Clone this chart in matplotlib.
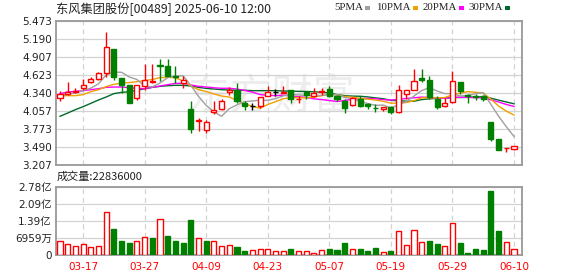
import matplotlib
matplotlib.use("Agg")
import matplotlib.pyplot as plt
from matplotlib.patches import Rectangle

# trading days shown
dates = ["03-12", "03-13", "03-14", "03-17", "03-18", "03-19", "03-20", "03-21", "03-24", "03-25",
         "03-26", "03-27", "03-28", "03-31", "04-01", "04-02", "04-03", "04-07", "04-08", "04-09",
         "04-10", "04-11", "04-14", "04-15", "04-16", "04-17", "04-22", "04-23", "04-24", "04-25",
         "04-28", "04-29", "04-30", "05-02", "05-06", "05-07", "05-08", "05-09", "05-12", "05-13",
         "05-14", "05-15", "05-16", "05-19", "05-20", "05-21", "05-22", "05-23", "05-26", "05-27",
         "05-28", "05-29", "05-30", "06-02", "06-03", "06-04", "06-05", "06-06", "06-09", "06-10"]

opens = [4.26, 4.33, 4.35, 4.42, 4.51, 4.56, 4.66, 5.03, 4.58, 4.47,
         4.26, 4.45, 4.51, 4.78, 4.76, 4.61, 4.50, 4.09, 3.90, 3.75,
         4.04, 4.09, 4.36, 4.38, 4.19, 4.13, 4.14, 4.30, 4.35, 4.34,
         4.39, 4.24, 4.35, 4.30, 4.35, 4.40, 4.29, 4.21, 4.15, 4.24,
         4.16, 4.11, 4.09, 4.12, 4.04, 4.33, 4.38, 4.58, 4.55, 4.25,
         4.13, 4.20, 4.52, 4.31, 4.30, 4.29, 3.89, 3.61, 3.47, 3.46]
highs = [4.37, 4.51, 4.42, 4.56, 4.59, 4.67, 5.30, 5.03, 4.58, 4.47,
         4.47, 4.79, 4.80, 4.88, 4.88, 4.76, 4.60, 4.22, 3.95, 3.92,
         4.21, 4.25, 4.43, 4.50, 4.21, 4.18, 4.28, 4.45, 4.41, 4.45,
         4.39, 4.30, 4.35, 4.42, 4.42, 4.45, 4.31, 4.24, 4.28, 4.29,
         4.19, 4.16, 4.12, 4.14, 4.46, 4.39, 4.72, 4.71, 4.60, 4.30,
         4.26, 4.68, 4.52, 4.33, 4.33, 4.31, 3.89, 3.61, 3.48, 3.51]
lows = [4.21, 4.31, 4.34, 4.39, 4.49, 4.55, 4.59, 4.54, 4.34, 4.18,
        4.23, 4.38, 4.50, 4.53, 4.60, 4.50, 4.42, 3.71, 3.74, 3.71,
        4.01, 4.08, 4.31, 4.18, 4.07, 4.07, 4.10, 4.30, 4.30, 4.34,
        4.19, 4.19, 4.24, 4.28, 4.31, 4.28, 4.21, 4.03, 4.13, 4.12,
        4.09, 4.04, 4.05, 4.01, 4.02, 4.24, 4.38, 4.51, 4.24, 4.09,
        4.12, 4.18, 4.33, 4.19, 4.23, 4.22, 3.58, 3.44, 3.41, 3.44]
closes = [4.32, 4.36, 4.37, 4.47, 4.56, 4.66, 5.06, 4.59, 4.46, 4.19,
          4.46, 4.54, 4.53, 4.77, 4.61, 4.59, 4.55, 3.78, 3.91, 3.89,
          4.08, 4.21, 4.38, 4.21, 4.14, 4.13, 4.28, 4.36, 4.35, 4.35,
          4.24, 4.25, 4.31, 4.34, 4.37, 4.30, 4.24, 4.10, 4.26, 4.14,
          4.13, 4.10, 4.12, 4.04, 4.38, 4.39, 4.53, 4.55, 4.27, 4.12,
          4.18, 4.53, 4.37, 4.30, 4.27, 4.25, 3.61, 3.44, 3.48, 3.50]

ma5 = [4.30, 4.32, 4.34, 4.38, 4.416, 4.484, 4.624, 4.668, 4.666, 4.592,
       4.552, 4.448, 4.436, 4.498, 4.582, 4.608, 4.610, 4.460, 4.288, 4.144,
       4.042, 3.974, 4.094, 4.154, 4.204, 4.214, 4.228, 4.224, 4.252, 4.294,
       4.316, 4.310, 4.300, 4.298, 4.302, 4.314, 4.312, 4.270, 4.254, 4.208,
       4.174, 4.146, 4.150, 4.106, 4.154, 4.206, 4.292, 4.378, 4.424, 4.372,
       4.330, 4.330, 4.294, 4.300, 4.330, 4.344, 4.160, 3.974, 3.810, 3.656]
ma10 = [4.298, 4.298, 4.298, 4.314, 4.361, 4.392, 4.440, 4.476, 4.497, 4.504,
        4.518, 4.536, 4.552, 4.582, 4.587, 4.580, 4.529, 4.448, 4.393, 4.363,
        4.325, 4.292, 4.277, 4.221, 4.174, 4.128, 4.101, 4.159, 4.203, 4.249,
        4.265, 4.269, 4.262, 4.275, 4.298, 4.315, 4.311, 4.285, 4.276, 4.255,
        4.244, 4.229, 4.210, 4.180, 4.181, 4.190, 4.219, 4.264, 4.265, 4.263,
        4.268, 4.311, 4.336, 4.362, 4.351, 4.337, 4.245, 4.134, 4.055, 3.993]
ma20 = [4.330, 4.356, 4.366, 4.377, 4.392, 4.408, 4.429, 4.434, 4.434, 4.424,
        4.413, 4.408, 4.429, 4.450, 4.471, 4.492, 4.492, 4.466, 4.445, 4.434,
        4.422, 4.414, 4.415, 4.402, 4.381, 4.354, 4.315, 4.304, 4.298, 4.306,
        4.295, 4.281, 4.270, 4.248, 4.236, 4.222, 4.206, 4.222, 4.240, 4.252,
        4.255, 4.249, 4.236, 4.228, 4.240, 4.253, 4.265, 4.275, 4.271, 4.259,
        4.256, 4.270, 4.273, 4.271, 4.266, 4.264, 4.232, 4.199, 4.160, 4.128]
ma30 = [3.973, 4.025, 4.078, 4.125, 4.177, 4.230, 4.277, 4.330, 4.350, 4.361,
        4.382, 4.408, 4.429, 4.445, 4.455, 4.461, 4.461, 4.450, 4.429, 4.413,
        4.403, 4.392, 4.387, 4.382, 4.382, 4.377, 4.377, 4.377, 4.377, 4.372,
        4.369, 4.366, 4.364, 4.359, 4.353, 4.341, 4.314, 4.297, 4.291, 4.289,
        4.278, 4.263, 4.250, 4.225, 4.218, 4.211, 4.210, 4.236, 4.248, 4.256,
        4.259, 4.270, 4.269, 4.272, 4.277, 4.281, 4.258, 4.228, 4.199, 4.170]

# volume in shares, colour = up/down vs previous close
volumes = [58e6, 46e6, 38e6, 45e6, 33e6, 38e6, 174e6, 107e6, 57e6, 50e6,
           57e6, 74e6, 70e6, 147e6, 78e6, 57e6, 50e6, 143e6, 69e6, 57e6,
           57e6, 37e6, 39e6, 34e6, 17e6, 19e6, 24e6, 24e6, 15e6, 15e6,
           25e6, 15e6, 15e6, 8e6, 19e6, 25e6, 21e6, 49e6, 25e6, 25e6,
           17e6, 29e6, 11e6, 17e6, 98e6, 41e6, 102e6, 52e6, 57e6, 45e6,
           37e6, 133e6, 49e6, 8e6, 25e6, 21e6, 262e6, 98e6, 52e6, 22.836e6]
vol_up = "RRRRRRRGGGRRGRGGGGRGRRRGGRRRRRGRRRRGGGRGGGRGRRRRGGRRGGGGGGRR"

price_ticks = [3.207, 3.490, 3.773, 4.057, 4.340, 4.623, 4.907, 5.190, 5.473]
vol_ticks = [0, 69.59e6, 139.18e6, 208.77e6, 278.36e6]
vol_labels = ["0", "6959万", "1.39亿", "2.09亿", "2.78亿"]
label_dates = ["03-17", "03-27", "04-09", "04-23", "05-07", "05-19", "05-29", "06-10"]

RED = "#ff0000"
GREEN = "#008000"
FRAME = "#999999"
GRID = "#d3d3d3"
CJK = ["Noto Sans CJK SC", "DejaVu Sans"]

W, H = 578, 276
fig = plt.figure(figsize=(W / 100, H / 100), dpi=100)


def box(l, t, r, b):
    return [l / W, 1 - b / H, (r - l) / W, (b - t) / H]


ax = fig.add_axes(box(56, 21, 522, 165))
axv = fig.add_axes(box(56, 187, 522, 255))

xs = list(range(len(dates)))
tick_pos = [dates.index(d) for d in label_dates]

for a in (ax, axv):
    a.set_xlim(-0.52, 60.04)
    for s in a.spines.values():
        s.set_color(FRAME)
        s.set_linewidth(1.3)
    a.tick_params(length=0, labelsize=7.5, colors="#222222")
    for p in tick_pos:
        a.axvline(p, color=GRID, lw=0.9, ls=(0, (4, 3)), zorder=0)

# watermark
ax.text(27.5, 4.26, "东方财富", fontsize=30, color="#ededed", family=CJK,
        ha="center", va="center", style="italic", zorder=0)

# price panel
ax.set_ylim(price_ticks[0], price_ticks[-1])
ax.set_yticks(price_ticks)
ax.set_yticklabels([f"{v:.3f}" for v in price_ticks])
ax.grid(axis="y", color=GRID, lw=0.9)
ax.set_axisbelow(True)
ax.set_xticks([])
ax.tick_params(axis="y", pad=3)

ax.plot(xs, ma30, color="#006a2a", lw=1.0, zorder=2)
ax.plot(xs, ma20, color="#ff00ff", lw=1.0, zorder=2)
ax.plot(xs, ma10, color="#f0a000", lw=1.0, zorder=2)
ax.plot(xs, ma5, color="#a0a0a0", lw=1.0, zorder=2)

bw = 0.66
for i in xs:
    o, h, l, c = opens[i], highs[i], lows[i], closes[i]
    if c > o:
        col = RED
    elif c < o:
        col = GREEN
    else:
        col = "#000000"
    ax.vlines(i, l, h, color=col, lw=1.0, zorder=3)
    if c == o:
        ax.hlines(c, i - bw / 2, i + bw / 2, color=col, lw=1.0, zorder=4)
    elif c > o:
        ax.bar(i, c - o, bottom=o, width=bw, facecolor="white", edgecolor=col, lw=1.0, zorder=4)
    else:
        ax.bar(i, o - c, bottom=c, width=bw, facecolor=col, edgecolor=col, lw=1.0, zorder=4)

# volume panel
axv.set_ylim(0, vol_ticks[-1])
axv.set_yticks(vol_ticks)
axv.set_yticklabels(vol_labels, family=["DejaVu Sans", "Noto Sans CJK SC"])
axv.grid(axis="y", color=GRID, lw=0.9)
axv.set_axisbelow(True)
axv.tick_params(axis="y", pad=3)
axv.set_xticks(tick_pos)
axv.set_xticklabels(label_dates, color=RED, fontsize=7.5)
axv.tick_params(axis="x", pad=5, colors=RED)

for i in xs:
    if vol_up[i] == "R":
        axv.bar(i, volumes[i], width=bw, facecolor="white", edgecolor=RED, lw=1.0, zorder=3)
    else:
        axv.bar(i, volumes[i], width=bw, facecolor=GREEN, edgecolor=GREEN, lw=1.0, zorder=3)

# header texts
fig.text(56 / W, 1 - 9 / H, "东风集团股份[00489] 2025-06-10 12:00", family=CJK,
         fontsize=8.8, color="#222222", va="center", ha="left")
fig.text(57 / W, 1 - 177 / H, "成交量:22836000", family=CJK,
         fontsize=8.0, color="#222222", va="center", ha="left")

legend = [("5PMA", 365, "#a0a0a0"), ("10PMA", 413, "#f0a000"),
          ("20PMA", 459, "#ff00ff"), ("30PMA", 505, "#006a2a")]
for name, sx, col in legend:
    fig.text((sx - 2) / W, 1 - 8 / H, name, family="Liberation Serif", fontsize=7.8,
             color="#222222", va="center", ha="right")
    fig.patches.append(Rectangle((sx / W, 1 - 9.5 / H), 5 / W, 3.5 / H,
                                 transform=fig.transFigure, facecolor=col, edgecolor="none"))

plt.savefig("out.png", dpi=100)
